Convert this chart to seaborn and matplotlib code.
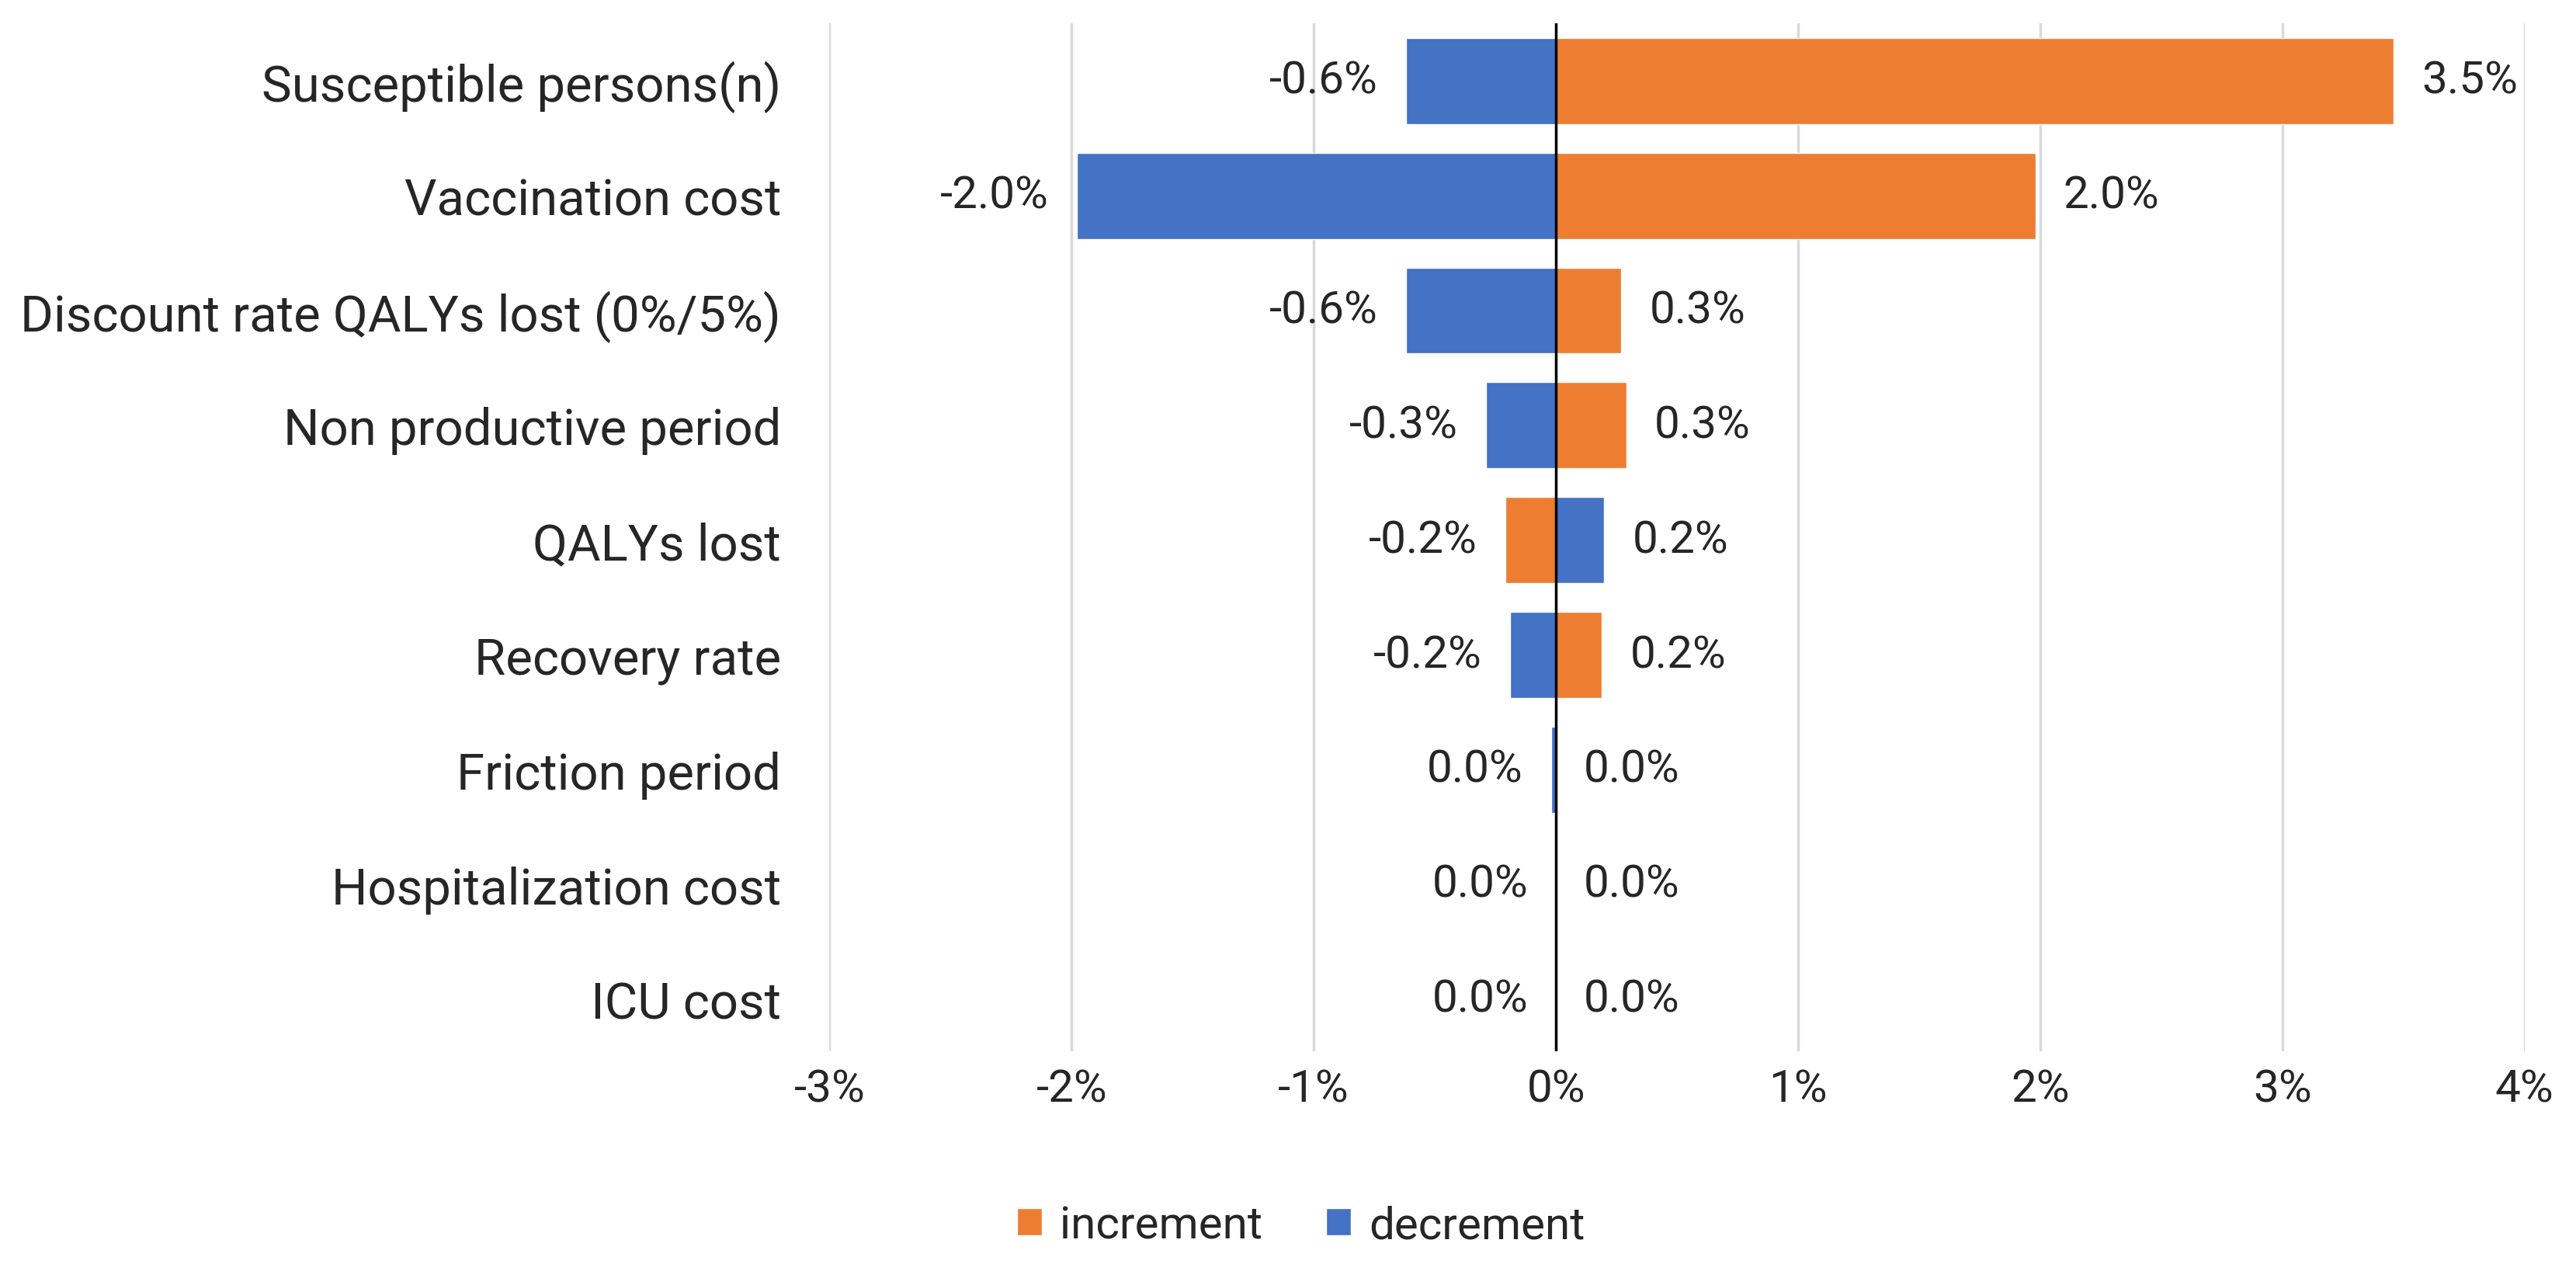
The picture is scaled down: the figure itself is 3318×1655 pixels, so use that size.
import numpy as np
import pandas as pd
import matplotlib
matplotlib.use('Agg')
import matplotlib.pyplot as plt
import seaborn as sns

# parameters of the tornado chart, top to bottom
params = ['Susceptible persons(n)', 'Vaccination cost', 'Discount rate QALYs lost (0%/5%)',
          'Non productive period', 'QALYs lost', 'Recovery rate', 'Friction period',
          'Hospitalization cost', 'ICU cost']
increment = [3.46, 1.98, 0.27, 0.29, -0.21, 0.19, 0.0, 0.0, 0.0]
decrement = [-0.62, -1.98, -0.62, -0.29, 0.20, -0.19, -0.02, 0.0, 0.0]
x_ticks = [-3, -2, -1, 0, 1, 2, 3, 4]

sns.set_theme(style='white')
plt.rcParams['font.family'] = ['Roboto', 'DejaVu Sans']
plt.rcParams['axes.unicode_minus'] = False
txt = '#262626'
fs = 42

df = pd.DataFrame({
    'param': params * 2,
    'value': increment + decrement,
    'series': ['increment'] * len(params) + ['decrement'] * len(params),
})

fig = plt.figure(figsize=(33.18, 16.56), dpi=100)
ax = fig.add_axes([0.322, 0.182, 0.658, 0.799])

sns.barplot(data=df, x='value', y='param', hue='series', dodge=False,
            palette={'increment': '#ED7D31', 'decrement': '#4472C4'}, saturation=1,
            width=0.75, orient='h', errorbar=None, ax=ax)

ax.set_xlim(-3, 4)
ax.set_ylim(8.45, -0.5)
ax.set_xticks(x_ticks)
ax.set_xticklabels([f'{t}%' for t in x_ticks])
ax.grid(axis='x', color='#D9D9D9', lw=2.5)
ax.grid(axis='y', visible=False)
ax.set_axisbelow(True)
ax.axvline(0, color='black', lw=2.5, zorder=3)
for s in ax.spines.values():
    s.set_visible(False)
ax.set_xlabel('')
ax.set_ylabel('')
ax.tick_params(axis='y', length=0, pad=45, labelsize=47, labelcolor=txt)
ax.tick_params(axis='x', length=0, pad=16, labelsize=fs, labelcolor=txt)


def fmt(v):
    s = f'{v:.1f}%'
    return '0.0%' if s == '-0.0%' else s


for i, (inc, dec) in enumerate(zip(increment, decrement)):
    side = -1 if inc < 0 else 1
    ax.annotate(fmt(inc), (inc, i), xytext=(side * 26, 0), textcoords='offset points',
                ha='left' if side > 0 else 'right', va='center', fontsize=fs, color=txt)
    side = 1 if dec > 0 else -1
    ax.annotate(fmt(dec), (dec, i), xytext=(side * 26, 0), textcoords='offset points',
                ha='left' if side > 0 else 'right', va='center', fontsize=fs, color=txt)

sns.move_legend(ax, 'center', bbox_to_anchor=(0.505, 0.046), bbox_transform=fig.transFigure,
                ncol=2, frameon=False, title=None, fontsize=fs, handlelength=0.55,
                handleheight=0.55, handletextpad=0.4, columnspacing=1.4)
for t in ax.get_legend().get_texts():
    t.set_color(txt)

fig.savefig('out.png', dpi=100)
